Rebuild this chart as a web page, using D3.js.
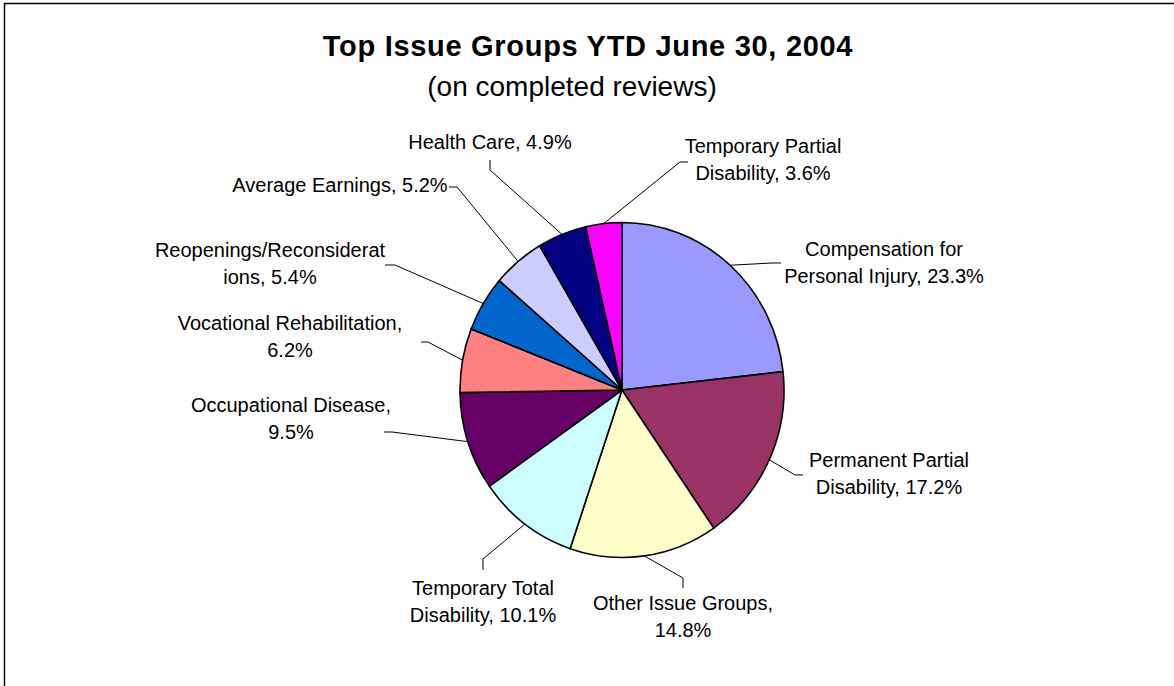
<!DOCTYPE html>
<html>
<head>
<meta charset="utf-8">
<script src="https://cdn.jsdelivr.net/npm/d3@7"></script>
<style>
  body { margin: 0; background: #fff; }
  svg { display: block; font-family: "Liberation Sans", Arial, sans-serif; }
</style>
</head>
<body>
<svg id="chart" width="1174" height="686"></svg>
<script>
// data, clockwise from 12 o'clock
var categories = [
  "Compensation for Personal Injury",
  "Permanent Partial Disability",
  "Other Issue Groups",
  "Temporary Total Disability",
  "Occupational Disease",
  "Vocational Rehabilitation",
  "Reopenings/Reconsiderations",
  "Average Earnings",
  "Health Care",
  "Temporary Partial Disability"
];
var values = [23.3, 17.2, 14.8, 10.1, 9.5, 6.2, 5.4, 5.2, 4.9, 3.6];
var colors = ["#9999ff", "#993366", "#ffffcc", "#ccffff", "#660066",
              "#ff8080", "#0066cc", "#ccccff", "#000080", "#ff00ff"];

// label text as Excel wrapped it
var labelLines = [
  ["Compensation for", "Personal Injury, 23.3%"],
  ["Permanent Partial", "Disability, 17.2%"],
  ["Other Issue Groups,", "14.8%"],
  ["Temporary Total", "Disability, 10.1%"],
  ["Occupational Disease,", "9.5%"],
  ["Vocational Rehabilitation,", "6.2%"],
  ["Reopenings/Reconsiderat", "ions, 5.4%"],
  ["Average Earnings, 5.2%"],
  ["Health Care, 4.9%"],
  ["Temporary Partial", "Disability, 3.6%"]
];

// label layout: text center x, first baseline y, leader attach point and elbow
var labelLayout = [
  {x: 884, y: 256, ax: 781, ay: 263, ex: 772, ey: 263},
  {x: 889, y: 467, ax: 803, ay: 475, ex: 795, ey: 475},
  {x: 683, y: 610, ax: 683, ay: 588, ex: 683, ey: 578},
  {x: 483, y: 595, ax: 483, ay: 570, ex: 483, ey: 559},
  {x: 291, y: 412, ax: 384, ay: 432, ex: 392, ey: 432},
  {x: 290, y: 330, ax: 421, ay: 342, ex: 428, ey: 342},
  {x: 270, y: 257, ax: 385, ay: 265, ex: 395, ey: 265},
  {x: 340, y: 192, ax: 449, ay: 187, ex: 457, ey: 187},
  {x: 490, y: 149, ax: 490, ay: 160, ex: 490, ey: 170},
  {x: 763, y: 153, ax: 688, ay: 162, ex: 680, ey: 162}
];

var cx = 622, cy = 390, rx = 162, ry = 167.5;
var lineGap = 27;

var svg = d3.select("#chart");

// frame (right and bottom edges fall outside the picture)
svg.append("rect")
  .attr("x", 4.5).attr("y", 3.5)
  .attr("width", 1300).attr("height", 1000)
  .attr("fill", "none")
  .attr("stroke", "#000")
  .attr("stroke-width", 1.5);

svg.append("text")
  .attr("x", 588).attr("y", 56)
  .attr("text-anchor", "middle")
  .attr("font-size", 29)
  .attr("font-weight", "bold")
  .attr("letter-spacing", 0.7)
  .text("Top Issue Groups YTD June 30, 2004");

svg.append("text")
  .attr("x", 572).attr("y", 96)
  .attr("text-anchor", "middle")
  .attr("font-size", 28)
  .text("(on completed reviews)");

var pie = d3.pie().sort(null).value(function (d) { return d; });
var arcs = pie(values);

var arc = d3.arc().innerRadius(0).outerRadius(ry);

var pieG = svg.append("g")
  .attr("transform", "translate(" + cx + "," + cy + ") scale(" + (rx / ry) + ",1)");

pieG.selectAll("path")
  .data(arcs)
  .join("path")
  .attr("d", arc)
  .attr("fill", function (d, i) { return colors[i]; })
  .attr("stroke", "#000")
  .attr("stroke-width", 1.6)
  .attr("stroke-linejoin", "round")
  .attr("vector-effect", "non-scaling-stroke");

// leader lines, ending on the pie rim at each slice's mid angle
var leaders = svg.append("g");
arcs.forEach(function (d, i) {
  var a = (d.startAngle + d.endAngle) / 2;
  var px = cx + rx * Math.sin(a);
  var py = cy - ry * Math.cos(a);
  var L = labelLayout[i];
  leaders.append("polyline")
    .attr("points", [[L.ax, L.ay], [L.ex, L.ey], [px, py]].join(" "))
    .attr("fill", "none")
    .attr("stroke", "#000")
    .attr("stroke-width", 1);
});

var labels = svg.append("g").attr("font-size", 20).attr("fill", "#000");
labelLines.forEach(function (lines, i) {
  var L = labelLayout[i];
  var t = labels.append("text")
    .attr("text-anchor", "middle");
  lines.forEach(function (s, j) {
    t.append("tspan")
      .attr("x", L.x)
      .attr("y", L.y + j * lineGap)
      .text(s);
  });
});
</script>
</body>
</html>
